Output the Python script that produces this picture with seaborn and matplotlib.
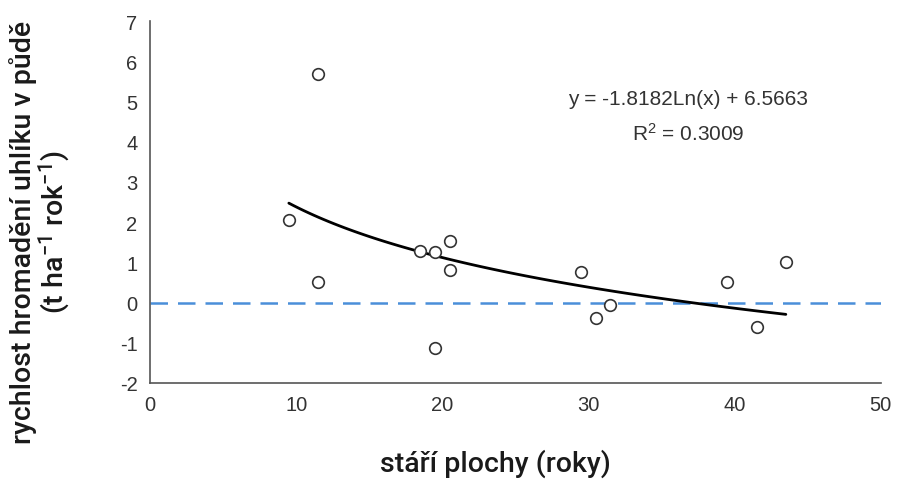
## scatter of carbon accumulation rate vs plot age, with log trend line

import numpy as np
import pandas as pd
import matplotlib
matplotlib.use("Agg")
import matplotlib.pyplot as plt
import seaborn as sns

# values
plot_age = [9.5, 11.5, 11.5, 18.5, 19.5, 20.5, 20.5, 19.5, 29.5, 30.5, 31.5, 39.5, 41.5, 43.5]
carbon_rate = [2.05, 5.68, 0.52, 1.28, 1.25, 1.52, 0.82, -1.12, 0.75, -0.38, -0.07, 0.52, -0.60, 1.00]

# trend line printed on the chart
trend_slope = -1.8182
trend_intercept = 6.5663
trend_r2 = 0.3009

x_ticks = [0, 10, 20, 30, 40, 50]
y_ticks = [-2, -1, 0, 1, 2, 3, 4, 5, 6, 7]

def main():
    sns.set_style("white")
    plt.rcParams['font.family'] = ['Liberation Sans', 'DejaVu Sans']
    plt.rcParams['axes.unicode_minus'] = False
    plt.rcParams['mathtext.default'] = 'regular'

    my_df = pd.DataFrame({"age": plot_age, "rate": carbon_rate})

    #trend curve over the span of the data
    trend_x = np.linspace(min(plot_age), max(plot_age), 100)
    trend_df = pd.DataFrame({"age": trend_x,
                             "rate": trend_slope * np.log(trend_x) + trend_intercept})

    my_figure = plt.figure(figsize=(8.97, 4.81), dpi=100)
    my_axes = my_figure.add_axes([0.1672, 0.2017, 0.8148, 0.7523])

    my_axes.axhline(0, color="#4a8fd9", linestyle=(0, (7, 4)), linewidth=1.8, zorder=1)
    sns.lineplot(data=trend_df, x="age", y="rate", color="black", linewidth=2, ax=my_axes, zorder=2)
    sns.scatterplot(data=my_df, x="age", y="rate", marker="o", s=70,
                    facecolor="white", edgecolor="#333333", linewidth=1.2, ax=my_axes, zorder=3)

    my_axes.set_xlim(0, 50)
    my_axes.set_ylim(-2, 7)
    my_axes.set_xticks(x_ticks)
    my_axes.set_yticks(y_ticks)
    my_axes.tick_params(axis="both", direction="out", length=5, width=1, color="#555555",
                        labelsize=14.5, labelcolor="#333333", pad=4)
    sns.despine(ax=my_axes)
    for side in ["left", "bottom"]:
        my_axes.spines[side].set_color("#555555")
        my_axes.spines[side].set_linewidth(1.2)

    my_axes.text(36.8, 5.07, f"y = {trend_slope}Ln(x) + {trend_intercept}",
                 ha="center", va="center", fontsize=15, color="#333333")
    my_axes.text(36.8, 4.23, f"R$^2$ = {trend_r2}",
                 ha="center", va="center", fontsize=15, color="#333333")

    label_font = dict(fontsize=20.5, family="Roboto", fontweight="medium", color="#1a1a1a")
    my_axes.set_xlabel("stáří plochy (roky)", **label_font)
    my_axes.xaxis.set_label_coords(0.473, -0.18)
    my_axes.set_ylabel("rychlost hromadění uhlíku v půdě\n(t ha$^{-1}$ rok$^{-1}$)",
                       linespacing=1.0, **label_font)
    my_axes.yaxis.set_label_coords(-0.105, 0.42)

    plt.savefig("out.png", dpi=100)
    return

if __name__ == '__main__':
    main()
